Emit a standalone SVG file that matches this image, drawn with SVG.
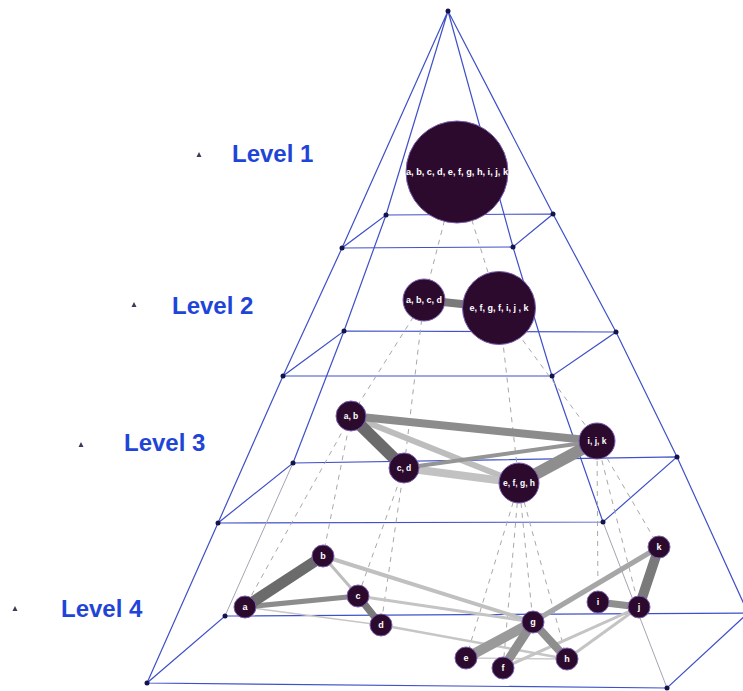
<svg xmlns="http://www.w3.org/2000/svg" width="743" height="691" viewBox="0 0 743 691">
  <style>
    .frame { stroke: #3f50c8; stroke-width: 1.2; fill: none; }
    .hidden { stroke: #a4a4b4; stroke-width: 1; fill: none; }
    .corner { fill: #14144a; }
    .drop { stroke: #a8a8a8; stroke-width: 1; stroke-dasharray: 5 5; fill: none; }
    .edge { fill: none; stroke-linecap: butt; }
    .node circle { fill: #2c0a2e; stroke: #7a5fb0; stroke-width: 1; }
    .node text { fill: #ffffff; font-family: "Liberation Sans", Arial, sans-serif; font-weight: bold; text-anchor: middle; dominant-baseline: central; }
    .level { fill: #1f45d8; font-family: "Liberation Sans", Arial, sans-serif; font-weight: bold; font-size: 24px; }
    .mark { fill: #3a3a5a; }
  </style>

  <!-- pyramid frame -->
  <g id="frame">
    <!-- apex to first plane -->
    <path class="frame" d="M448,11 L386,215 M448,11 L553,214 M448,11 L513,247 M448,11 L342,248"/>
    <!-- planes -->
    <polygon class="frame" points="386,215 553,214 513,247 342,248"/>
    <polygon class="frame" points="344,331 616,332 552,376 283,376"/>
    <polygon class="frame" points="293,463 677,457 603,522 218,523"/>
    <polygon class="frame" points="225,616 748,613 667,688 147,683"/>
    <!-- side edges between planes -->
    <path class="frame" d="M386,215 L344,331 L293,463 M553,214 L616,332 L677,457 L748,613 M513,247 L552,376 L603,522 M342,248 L283,376 L218,523 L147,683"/>
    <path class="hidden" d="M293,463 L225,616 M603,522 L667,688"/>
    <!-- corner points -->
    <g class="corner">
      <circle cx="448" cy="11" r="2.5"/>
      <circle cx="386" cy="215" r="2.5"/><circle cx="553" cy="214" r="2.5"/><circle cx="513" cy="247" r="2.5"/><circle cx="342" cy="248" r="2.5"/>
      <circle cx="344" cy="331" r="2.5"/><circle cx="616" cy="332" r="2.5"/><circle cx="552" cy="376" r="2.5"/><circle cx="283" cy="376" r="2.5"/>
      <circle cx="293" cy="463" r="2.5"/><circle cx="677" cy="457" r="2.5"/><circle cx="603" cy="522" r="2.5"/><circle cx="218" cy="523" r="2.5"/>
      <circle cx="225" cy="616" r="2.5"/><circle cx="667" cy="688" r="2.5"/><circle cx="147" cy="683" r="2.5"/>
    </g>
  </g>

  <!-- level labels -->
  <g id="labels">
    <polygon class="mark" points="199,152 201.5,157 196.5,157"/>
    <text class="level" x="232" y="162">Level 1</text>
    <polygon class="mark" points="134,302 136.5,307 131.5,307"/>
    <text class="level" x="172" y="314">Level 2</text>
    <polygon class="mark" points="81,442 83.5,447 78.5,447"/>
    <text class="level" x="124" y="451">Level 3</text>
    <polygon class="mark" points="15,606 17.5,611 12.5,611"/>
    <text class="level" x="61" y="617">Level 4</text>
  </g>

  <!-- connectors -->
  <g id="connectors">
    <!-- parent/child drops -->
    <path class="drop" d="M457,172 L424,300 M457,172 L499,308
      M424,300 L351,416 M424,300 L404,468 M499,308 L519,483 M499,308 L597,441
      M351,416 L245,607 M351,416 L323,556 M404,468 L358,596 M404,468 L381,625
      M519,483 L466,658 M519,483 L503,668 M519,483 L533,622 M519,483 L567,659
      M597,441 L598,602 M597,441 L639,607 M597,441 L659,547"/>
    <!-- level 2 -->
    <line class="edge" x1="424" y1="300" x2="499" y2="308" stroke="#7a7a7a" stroke-width="8"/>
    <!-- level 3 -->
    <line class="edge" x1="351" y1="416" x2="519" y2="483" stroke="#bdbdbd" stroke-width="6"/>
    <line class="edge" x1="404" y1="468" x2="519" y2="483" stroke="#c2c2c2" stroke-width="8"/>
    <line class="edge" x1="351" y1="416" x2="597" y2="441" stroke="#8c8c8c" stroke-width="8"/>
    <line class="edge" x1="404" y1="468" x2="597" y2="441" stroke="#959595" stroke-width="4"/>
    <line class="edge" x1="351" y1="416" x2="404" y2="468" stroke="#6b6b6b" stroke-width="12"/>
    <line class="edge" x1="519" y1="483" x2="597" y2="441" stroke="#8e8e8e" stroke-width="12"/>
    <!-- level 4 -->
    <line class="edge" x1="245" y1="607" x2="381" y2="625" stroke="#c6c6c6" stroke-width="1.5"/>
    <line class="edge" x1="381" y1="625" x2="567" y2="659" stroke="#c6c6c6" stroke-width="2.5"/>
    <line class="edge" x1="323" y1="556" x2="533" y2="622" stroke="#c0c0c0" stroke-width="4"/>
    <line class="edge" x1="358" y1="596" x2="533" y2="622" stroke="#c4c4c4" stroke-width="3"/>
    <line class="edge" x1="323" y1="556" x2="358" y2="596" stroke="#bdbdbd" stroke-width="3"/>
    <line class="edge" x1="466" y1="658" x2="567" y2="659" stroke="#cccccc" stroke-width="1.5"/>
    <line class="edge" x1="639" y1="607" x2="503" y2="668" stroke="#c4c4c4" stroke-width="3"/>
    <line class="edge" x1="639" y1="607" x2="567" y2="659" stroke="#c4c4c4" stroke-width="3"/>
    <line class="edge" x1="245" y1="607" x2="358" y2="596" stroke="#8c8c8c" stroke-width="5"/>
    <line class="edge" x1="245" y1="607" x2="323" y2="556" stroke="#6b6b6b" stroke-width="11"/>
    <line class="edge" x1="358" y1="596" x2="381" y2="625" stroke="#7a7a7a" stroke-width="7"/>
    <line class="edge" x1="533" y1="622" x2="659" y2="547" stroke="#a6a6a6" stroke-width="5"/>
    <line class="edge" x1="466" y1="658" x2="533" y2="622" stroke="#9a9a9a" stroke-width="10"/>
    <line class="edge" x1="503" y1="668" x2="533" y2="622" stroke="#8f8f8f" stroke-width="9"/>
    <line class="edge" x1="533" y1="622" x2="567" y2="659" stroke="#8e8e8e" stroke-width="8"/>
    <line class="edge" x1="598" y1="602" x2="639" y2="607" stroke="#8f8f8f" stroke-width="7"/>
    <line class="edge" x1="639" y1="607" x2="659" y2="547" stroke="#7a7a7a" stroke-width="10"/>
  </g>

  <!-- level 1 -->
  <g id="n1-all" class="node"><circle cx="457" cy="172" r="51"/><text x="457" y="172" font-size="9.2">a, b, c, d, e, f, g, h, i, j, k</text></g>
  <!-- level 2 -->
  <g id="n2-abcd" class="node"><circle cx="424" cy="300" r="21"/><text x="424" y="300" font-size="9">a, b, c, d</text></g>
  <g id="n2-efgfijk" class="node"><circle cx="499" cy="308" r="36.5"/><text x="499" y="308" font-size="9">e, f, g, f, i, j , k</text></g>
  <!-- level 3 -->
  <g id="n3-ab" class="node"><circle cx="351" cy="416" r="15"/><text x="351" y="416" font-size="8.5">a, b</text></g>
  <g id="n3-cd" class="node"><circle cx="404" cy="468" r="15"/><text x="404" y="468" font-size="8.5">c, d</text></g>
  <g id="n3-efgh" class="node"><circle cx="519" cy="483" r="20"/><text x="519" y="483" font-size="8.5">e, f, g, h</text></g>
  <g id="n3-ijk" class="node"><circle cx="597" cy="441" r="18"/><text x="597" y="441" font-size="8.5">i, j, k</text></g>
  <!-- level 4 -->
  <g id="n4-a" class="node"><circle cx="245" cy="607" r="11"/><text x="245" y="607" font-size="9">a</text></g>
  <g id="n4-b" class="node"><circle cx="323" cy="556" r="11"/><text x="323" y="556" font-size="9">b</text></g>
  <g id="n4-c" class="node"><circle cx="358" cy="596" r="11"/><text x="358" y="596" font-size="9">c</text></g>
  <g id="n4-d" class="node"><circle cx="381" cy="625" r="11"/><text x="381" y="625" font-size="9">d</text></g>
  <g id="n4-e" class="node"><circle cx="466" cy="658" r="11"/><text x="466" y="658" font-size="9">e</text></g>
  <g id="n4-f" class="node"><circle cx="503" cy="668" r="11"/><text x="503" y="668" font-size="9">f</text></g>
  <g id="n4-g" class="node"><circle cx="533" cy="622" r="11"/><text x="533" y="622" font-size="9">g</text></g>
  <g id="n4-h" class="node"><circle cx="567" cy="659" r="11"/><text x="567" y="659" font-size="9">h</text></g>
  <g id="n4-i" class="node"><circle cx="598" cy="602" r="11"/><text x="598" y="602" font-size="9">i</text></g>
  <g id="n4-j" class="node"><circle cx="639" cy="607" r="11"/><text x="639" y="607" font-size="9">j</text></g>
  <g id="n4-k" class="node"><circle cx="659" cy="547" r="11"/><text x="659" y="547" font-size="9">k</text></g>
</svg>
